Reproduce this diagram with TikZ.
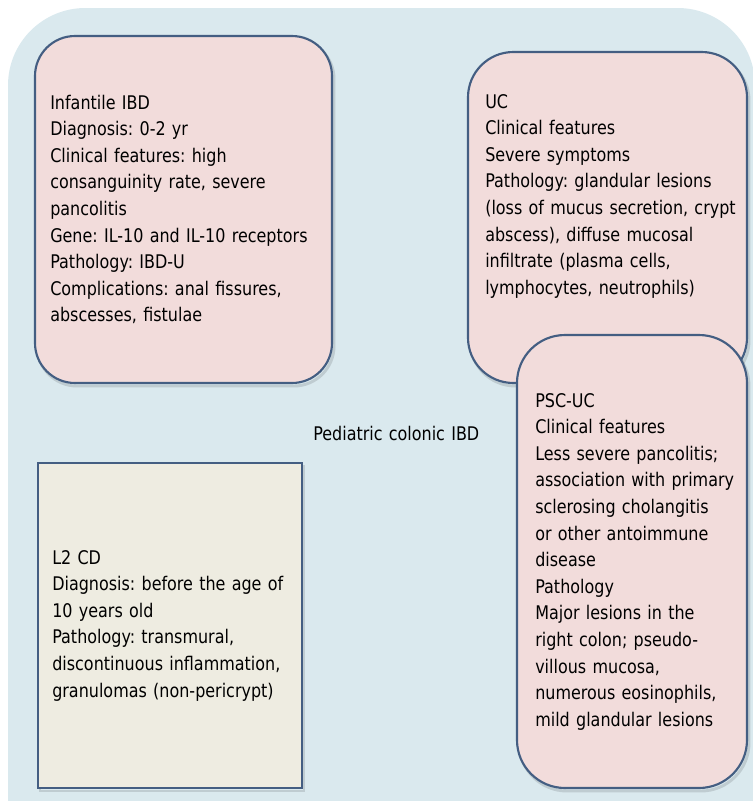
\documentclass[tikz,border=0pt]{standalone}
\usepackage{fontspec}
\setmainfont{DejaVu Sans}[FakeStretch=0.85]
\frenchspacing
\definecolor{bgblue}{RGB}{218,233,238}
\definecolor{pinkcol}{RGB}{242,220,219}
\definecolor{tancol}{RGB}{238,236,225}
\definecolor{bordercol}{RGB}{68,94,130}
\begin{document}
\begin{tikzpicture}[x=0.75pt,y=-0.75pt,
  pbox/.style={fill=pinkcol, draw=bordercol, line width=1.6pt},
  tbox/.style={fill=tancol, draw=bordercol, line width=1.8pt},
  shadowline/.style={draw=black, opacity=0.12, line width=2.2pt},
  txt/.style={anchor=base west, inner sep=0pt, text width=240pt, align=left,
    font=\fontsize{14.1}{19.95}\selectfont\frenchspacing, text=black}]
\useasboundingbox (0,0) rectangle (753,801);
% background
\fill[bgblue, rounded corners=58pt] (8,8) rectangle (755,900);
% Infantile IBD
\draw[shadowline, rounded corners=30pt] (37,39) rectangle (334,386);
\draw[pbox, rounded corners=30pt] (35,36) rectangle (332,383);
% UC
\draw[shadowline, rounded corners=34pt] (470,55) rectangle (749,386);
\draw[pbox, rounded corners=34pt] (468,52) rectangle (747,383);
% PSC-UC
\draw[shadowline, rounded corners=36pt] (519,338) rectangle (749,791);
\draw[pbox, rounded corners=36pt] (517,335) rectangle (747,788);
% L2 CD
\draw[shadowline] (40,466) rectangle (304,791);
\draw[tbox] (38,463) rectangle (302,788);
% texts
\node[txt] (t1) at (50,109) {Infantile IBD\\
Diagnosis: 0-2 yr\\
Clinical features: high\\
consanguinity rate, severe\\
pancolitis\\
Gene: IL-10 and IL-10 receptors\\
Pathology: IBD-U\\
Complications: anal fissures,\\
abscesses, fistulae};
\node[txt] (t2) at (485,108) {UC\\
Clinical features\\
Severe symptoms\\
Pathology: glandular lesions\\
(loss of mucus secretion, crypt\\
abscess), diffuse mucosal\\
infiltrate (plasma cells,\\
lymphocytes, neutrophils)};
\node[txt] (t3) at (535,407) {PSC-UC\\
Clinical features\\
Less severe pancolitis;\\
association with primary\\
sclerosing cholangitis\\
or other antoimmune\\
disease\\
Pathology\\
Major lesions in the\\
right colon; pseudo-\\
villous mucosa,\\
numerous eosinophils,\\
mild glandular lesions};
\node[txt] (t4) at (52,564) {L2 CD\\
Diagnosis: before the age of\\
10 years old\\
Pathology: transmural,\\
discontinuous inflammation,\\
granulomas (non-pericrypt)};
\node[txt] (title) at (313,440) {Pediatric colonic IBD};
\end{tikzpicture}
\end{document}
